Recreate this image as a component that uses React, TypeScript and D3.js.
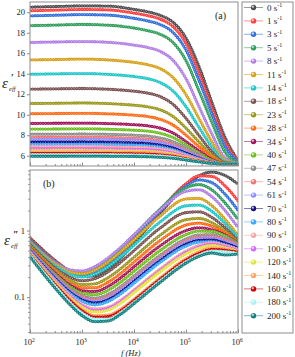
import React, { useEffect, useRef } from "react";
import * as d3 from "d3";

// shear rates (s^-1), one curve each
const shearRates = ["0", "1", "3", "5", "8", "11", "14", "18", "23", "28", "34", "40", "47", "54", "61", "70", "80", "90", "100", "120", "140", "160", "180", "200"];

const seriesColors = [
  "#4d4d4d", "#ff3b3b", "#2f6fdc", "#2e9e5b", "#b07de6", "#d6a019", "#1ec6c8", "#7b5050",
  "#9a981c", "#ff6a13", "#a3125c", "#6dbe1f", "#8c8c8c", "#f27373", "#8e8cff", "#12127c",
  "#3aa8ff", "#ffa3a3", "#d766ff", "#e4e43a", "#ffa263", "#cc0000", "#a8f2f2", "#138080",
];

const freqReal = [100, 316.2, 1000, 3162, 10000, 17783, 31623, 56234, 100000, 177828, 316228, 562341, 1000000];
const freqLoss = [100, 316.2, 562.3, 1000, 1778, 3162, 5623, 10000, 31623, 100000, 177828, 316228, 562341, 1000000];

// ε'eff, one row per shear rate
const realPerm = [
  [20.5, 20.56, 20.62, 20.6, 20.28, 20.06, 19.7, 19.03, 17.49, 14.69, 11.17, 7.79, 5.53],
  [20.15, 20.21, 20.27, 20.23, 19.92, 19.69, 19.33, 18.6, 16.95, 14.05, 10.61, 7.35, 5.45],
  [19.65, 19.71, 19.77, 19.72, 19.41, 19.17, 18.81, 18.03, 16.31, 13.35, 10.03, 6.92, 5.39],
  [18.7, 18.75, 18.81, 18.74, 18.46, 18.22, 17.86, 17.05, 15.28, 12.32, 9.22, 6.35, 5.32],
  [17.05, 17.1, 17.14, 17.07, 16.8, 16.58, 16.19, 15.31, 13.52, 10.79, 8.1, 5.79, 5.25],
  [15.35, 15.39, 15.43, 15.35, 15.11, 14.9, 14.51, 13.63, 11.96, 9.63, 7.34, 5.58, 5.24],
  [13.95, 13.99, 14.02, 13.94, 13.73, 13.54, 13.15, 12.32, 10.78, 8.77, 6.83, 5.45, 5.23],
  [12.5, 12.53, 12.56, 12.49, 12.3, 12.13, 11.78, 11.02, 9.65, 7.97, 6.38, 5.34, 5.22],
  [11.1, 11.12, 11.15, 11.09, 10.93, 10.79, 10.49, 9.84, 8.69, 7.34, 6.05, 5.3, 5.21],
  [10.1, 10.12, 10.14, 10.09, 9.96, 9.84, 9.56, 9.0, 8.01, 6.88, 5.82, 5.27, 5.21],
  [9.15, 9.17, 9.18, 9.14, 9.03, 8.93, 8.7, 8.22, 7.39, 6.48, 5.64, 5.25, 5.2],
  [8.6, 8.61, 8.63, 8.59, 8.49, 8.41, 8.2, 7.78, 7.06, 6.27, 5.55, 5.24, 5.2],
  [8.1, 8.11, 8.12, 8.09, 8.01, 7.93, 7.75, 7.38, 6.76, 6.09, 5.47, 5.23, 5.2],
  [7.8, 7.81, 7.82, 7.79, 7.71, 7.64, 7.46, 7.1, 6.5, 5.9, 5.36, 5.21, 5.2],
  [7.58, 7.59, 7.6, 7.57, 7.5, 7.43, 7.27, 6.94, 6.39, 5.84, 5.34, 5.21, 5.2],
  [7.32, 7.33, 7.34, 7.31, 7.25, 7.19, 7.04, 6.75, 6.26, 5.77, 5.33, 5.21, 5.2],
  [7.1, 7.11, 7.12, 7.09, 7.04, 6.98, 6.85, 6.59, 6.15, 5.71, 5.31, 5.21, 5.2],
  [6.88, 6.89, 6.89, 6.87, 6.82, 6.78, 6.66, 6.43, 6.04, 5.65, 5.3, 5.21, 5.2],
  [6.68, 6.69, 6.69, 6.67, 6.63, 6.59, 6.49, 6.28, 5.94, 5.6, 5.29, 5.21, 5.2],
  [6.5, 6.51, 6.51, 6.49, 6.46, 6.42, 6.33, 6.15, 5.85, 5.55, 5.28, 5.21, 5.2],
  [6.38, 6.38, 6.39, 6.37, 6.34, 6.31, 6.23, 6.06, 5.79, 5.52, 5.27, 5.21, 5.2],
  [6.22, 6.22, 6.23, 6.22, 6.19, 6.16, 6.09, 5.95, 5.71, 5.48, 5.26, 5.21, 5.2],
  [6.1, 6.1, 6.11, 6.1, 6.07, 6.04, 5.98, 5.86, 5.65, 5.44, 5.25, 5.2, 5.2],
  [5.95, 5.95, 5.96, 5.95, 5.93, 5.9, 5.85, 5.75, 5.58, 5.4, 5.25, 5.2, 5.2],
];

// ε''eff, one row per shear rate
const lossPerm = [
  [0.78, 0.347, 0.251, 0.206, 0.208, 0.264, 0.39, 0.64, 1.81, 4.74, 6.63, 7.53, 6.71, 4.98],
  [0.75, 0.338, 0.249, 0.213, 0.226, 0.297, 0.447, 0.72, 2.0, 5.04, 6.61, 6.49, 4.68, 2.8],
  [0.72, 0.328, 0.246, 0.217, 0.237, 0.316, 0.47, 0.75, 1.99, 4.68, 5.75, 5.22, 3.52, 2.01],
  [0.7, 0.326, 0.256, 0.239, 0.274, 0.37, 0.547, 0.85, 2.09, 4.37, 4.9, 4.06, 2.6, 1.46],
  [0.68, 0.323, 0.259, 0.248, 0.288, 0.388, 0.567, 0.864, 2.02, 3.88, 4.09, 3.21, 2.0, 1.11],
  [0.66, 0.306, 0.241, 0.225, 0.255, 0.337, 0.485, 0.726, 1.64, 2.98, 3.03, 2.35, 1.48, 0.84],
  [0.64, 0.288, 0.221, 0.201, 0.222, 0.287, 0.408, 0.605, 1.34, 2.35, 2.41, 1.93, 1.28, 0.77],
  [0.615, 0.27, 0.202, 0.177, 0.19, 0.24, 0.338, 0.5, 1.085, 1.86, 1.91, 1.57, 1.1, 0.7],
  [0.592, 0.252, 0.183, 0.155, 0.159, 0.196, 0.271, 0.398, 0.849, 1.455, 1.52, 1.31, 0.974, 0.663],
  [0.57, 0.237, 0.168, 0.139, 0.139, 0.168, 0.23, 0.337, 0.707, 1.21, 1.29, 1.16, 0.92, 0.655],
  [0.549, 0.224, 0.156, 0.125, 0.122, 0.145, 0.197, 0.286, 0.588, 1.0, 1.1, 1.03, 0.86, 0.645],
  [0.537, 0.215, 0.147, 0.115, 0.109, 0.127, 0.17, 0.246, 0.5, 0.87, 0.98, 0.97, 0.83, 0.635],
  [0.526, 0.206, 0.139, 0.105, 0.097, 0.11, 0.145, 0.209, 0.426, 0.75, 0.86, 0.867, 0.78, 0.62],
  [0.516, 0.199, 0.133, 0.1, 0.091, 0.102, 0.135, 0.194, 0.396, 0.7, 0.8, 0.81, 0.73, 0.6],
  [0.506, 0.192, 0.127, 0.095, 0.087, 0.097, 0.128, 0.184, 0.376, 0.665, 0.76, 0.77, 0.69, 0.575],
  [0.495, 0.186, 0.122, 0.091, 0.082, 0.091, 0.12, 0.172, 0.352, 0.62, 0.71, 0.72, 0.645, 0.55],
  [0.485, 0.18, 0.117, 0.087, 0.077, 0.086, 0.113, 0.162, 0.332, 0.585, 0.67, 0.68, 0.61, 0.53],
  [0.474, 0.172, 0.11, 0.078, 0.067, 0.071, 0.091, 0.129, 0.265, 0.494, 0.6, 0.656, 0.6, 0.52],
  [0.464, 0.167, 0.106, 0.075, 0.063, 0.068, 0.087, 0.123, 0.252, 0.47, 0.571, 0.625, 0.575, 0.505],
  [0.454, 0.161, 0.101, 0.071, 0.06, 0.064, 0.082, 0.117, 0.24, 0.447, 0.543, 0.594, 0.55, 0.49],
  [0.443, 0.154, 0.096, 0.065, 0.053, 0.054, 0.067, 0.094, 0.195, 0.38, 0.481, 0.55, 0.53, 0.48],
  [0.433, 0.149, 0.092, 0.062, 0.05, 0.051, 0.063, 0.089, 0.185, 0.359, 0.454, 0.52, 0.505, 0.47],
  [0.423, 0.142, 0.086, 0.058, 0.047, 0.047, 0.059, 0.083, 0.174, 0.338, 0.428, 0.49, 0.48, 0.455],
  [0.402, 0.132, 0.08, 0.053, 0.043, 0.044, 0.056, 0.08, 0.166, 0.324, 0.41, 0.46, 0.43, 0.445],
];

const realTicks = [6, 8, 10, 12, 14, 16, 18, 20];
const lossTicks = [0.1, 1];
const lossMinorTicks = [0.03, 0.04, 0.05, 0.06, 0.07, 0.08, 0.09, 0.2, 0.3, 0.4, 0.5, 0.6, 0.7, 0.8, 0.9, 2, 3, 4, 5, 6, 7, 8];
const decades = [1e2, 1e3, 1e4, 1e5, 1e6];
const decadeExp = ["2", "3", "4", "5", "6"];

const serif = "'Liberation Serif', 'Times New Roman', serif";
const frameColor = "#8d8d8d";

const plotLeft = 30;
const plotRight = 238;
const topPanel = { top: 2, bottom: 166 };
const botPanel = { top: 170, bottom: 333 };

const x = d3.scaleLog().domain([1e2, 1e6]).range([plotLeft, plotRight]);
const yReal = d3.scaleLinear().domain([5, 21]).range([topPanel.bottom, topPanel.top]);
const yLoss = d3.scaleLog().domain([0.029, 8.1]).range([botPanel.bottom, botPanel.top]);

const minorX = d3.range(2, 7).flatMap((e) => d3.range(2, 10).map((m) => m * Math.pow(10, e)));

interface AxisProps {
  axis: d3.Axis<any>;
  transform: string;
}
function AxisG({ axis, transform }: AxisProps) {
  const ref = useRef<SVGGElement>(null);

  useEffect(() => {
    if (ref.current) {
      const g = d3.select(ref.current);
      g.call(axis);
      g.select(".domain").remove();
      g.attr("font-family", serif).attr("font-size", 8.5);
      g.selectAll("line").attr("stroke", frameColor);
      g.selectAll("text").attr("fill", "#222");
    }
  }, [axis]);

  return <g ref={ref} transform={transform} />;
}

interface CurvesProps {
  rows: number[][];
  freqs: number[];
  yScale: (v: number) => number;
  clipId: string;
}
function Curves({ rows, freqs, yScale, clipId }: CurvesProps) {
  const line = d3
    .line<number>()
    .x((_, j) => x(freqs[j]))
    .y((v) => yScale(v))
    .curve(d3.curveMonotoneX);

  return (
    <g clipPath={`url(#${clipId})`}>
      {rows.map((row, i) => {
        const d = line(row) || "";
        return (
          <g key={`c-${shearRates[i]}`}>
            <path d={d} fill="none" stroke={seriesColors[i]} strokeWidth={3.3} strokeLinecap="round" strokeDasharray="0 2.6" />
            <path d={d} fill="none" stroke="#fff" strokeOpacity={0.5} strokeWidth={1.1} strokeLinecap="round" strokeDasharray="0 2.6" />
          </g>
        );
      })}
    </g>
  );
}

function Legend() {
  const left = 242;
  const top = 2;
  const step = 13.4;
  return (
    <g fontFamily={serif} fontSize={9}>
      <rect x={left} y={top} width={51} height={331} fill="#fff" stroke={frameColor} />
      {shearRates.map((s, i) => {
        const cy = top + 5.5 + i * step;
        return (
          <g key={`lg-${s}`}>
            <line x1={left + 2} x2={left + 21} y1={cy} y2={cy} stroke={seriesColors[i]} strokeOpacity={0.55} strokeWidth={1} />
            <circle cx={left + 11.5} cy={cy} r={2.7} fill={`url(#grad${i})`} />
            <text x={left + 25} y={cy + 3} fill="#222">
              {s} s<tspan fontSize={6} dy={-3.5}>-1</tspan>
            </text>
          </g>
        );
      })}
    </g>
  );
}

export default function App() {
  const w = 295;
  const h = 357;

  const yRealAxis = d3.axisLeft(yReal).tickValues(realTicks).tickSize(3).tickPadding(2);
  const yLossAxis = d3
    .axisLeft(yLoss)
    .tickValues(lossTicks)
    .tickFormat((d) => (Number(d) === 1 ? "1" : "0.1"))
    .tickSize(3)
    .tickPadding(2);
  const yLossMinor = d3.axisLeft(yLoss).tickValues(lossMinorTicks).tickFormat(() => "").tickSize(1.8);
  const xMajor = d3.axisBottom(x).tickValues(decades).tickFormat(() => "").tickSize(-3.5);
  const xMinor = d3.axisBottom(x).tickValues(minorX).tickFormat(() => "").tickSize(-2);

  return (
    <svg width={w} height={h} style={{ position: "absolute", left: 0, top: 0, background: "#fff" }}>
      <defs>
        <clipPath id="clipTop">
          <rect x={plotLeft} y={topPanel.top} width={plotRight - plotLeft} height={topPanel.bottom - topPanel.top} />
        </clipPath>
        <clipPath id="clipBot">
          <rect x={plotLeft} y={botPanel.top} width={plotRight - plotLeft} height={botPanel.bottom - botPanel.top} />
        </clipPath>
        {seriesColors.map((c, i) => (
          <radialGradient key={`grad${i}`} id={`grad${i}`} cx="38%" cy="35%" r="65%">
            <stop offset="0" stopColor="#fff" />
            <stop offset="0.5" stopColor={c} />
            <stop offset="1" stopColor={c} />
          </radialGradient>
        ))}
      </defs>

      {/* top panel: real part */}
      <Curves rows={realPerm} freqs={freqReal} yScale={yReal} clipId="clipTop" />
      <rect x={plotLeft} y={topPanel.top} width={plotRight - plotLeft} height={topPanel.bottom - topPanel.top} fill="none" stroke={frameColor} />
      <AxisG axis={yRealAxis} transform={`translate(${plotLeft},0)`} />
      <AxisG axis={xMajor} transform={`translate(0,${topPanel.bottom})`} />
      <AxisG axis={xMinor} transform={`translate(0,${topPanel.bottom})`} />
      <text x={215} y={19} fontFamily={serif} fontSize={10} fill="#222">(a)</text>
      <text fontFamily={serif} fill="#222">
        <tspan x={2} y={88} fontSize={15} fontStyle="italic">ε</tspan>
        <tspan x={11} y={81} fontSize={10} fontWeight="bold">′</tspan>
        <tspan x={9} y={91} fontSize={6.5} fontStyle="italic">eff</tspan>
      </text>

      {/* bottom panel: imaginary part */}
      <Curves rows={lossPerm} freqs={freqLoss} yScale={yLoss} clipId="clipBot" />
      <rect x={plotLeft} y={botPanel.top} width={plotRight - plotLeft} height={botPanel.bottom - botPanel.top} fill="none" stroke={frameColor} />
      <AxisG axis={yLossAxis} transform={`translate(${plotLeft},0)`} />
      <AxisG axis={yLossMinor} transform={`translate(${plotLeft},0)`} />
      <AxisG axis={xMajor} transform={`translate(0,${botPanel.bottom})`} />
      <AxisG axis={xMinor} transform={`translate(0,${botPanel.bottom})`} />
      <text x={43} y={187} fontFamily={serif} fontSize={10} fill="#222">(b)</text>
      <text fontFamily={serif} fill="#222">
        <tspan x={4} y={245} fontSize={15} fontStyle="italic">ε</tspan>
        <tspan x={13} y={238} fontSize={10} fontWeight="bold">″</tspan>
        <tspan x={11} y={248} fontSize={6.5} fontStyle="italic">eff</tspan>
      </text>

      {decades.map((d, i) => (
        <text key={`xl-${d}`} x={x(d) - 1} y={345} textAnchor="middle" fontFamily={serif} fontSize={8.5} fill="#222">
          10<tspan fontSize={5.5} dy={-3.5}>{decadeExp[i]}</tspan>
        </text>
      ))}
      <text x={121} y={356} fontFamily={serif} fontSize={8.5} fontStyle="italic" fill="#222">
        f (Hz)
      </text>

      <Legend />
    </svg>
  );
}
